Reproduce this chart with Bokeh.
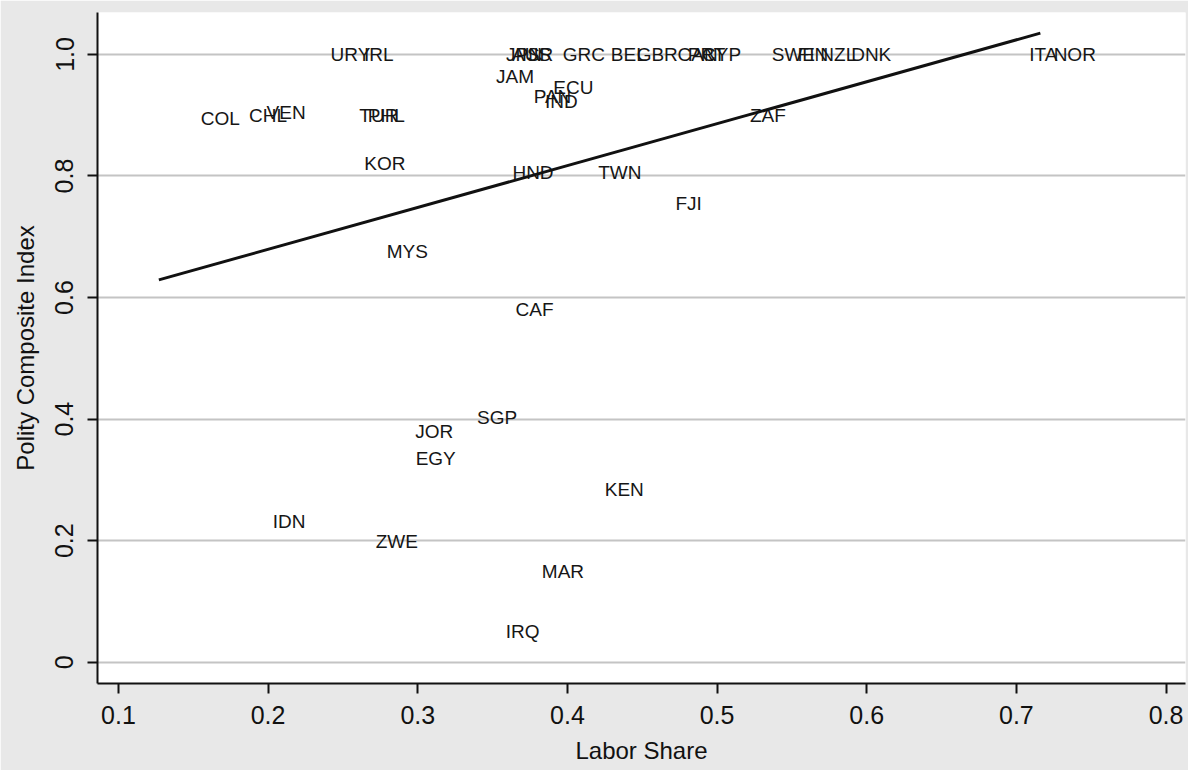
from bokeh.plotting import figure
from bokeh.models import ColumnDataSource, FixedTicker, Range1d
from bokeh.core.properties import value
from bokeh.embed import file_html
from bokeh.resources import INLINE

FONT = "Liberation Sans"

countries = ["URY", "IRL", "JPN", "AUS", "ISR", "GRC", "BEL", "GBR", "CAN", "PRT", "CYP",
             "SWE", "FIN", "NZL", "DNK", "ITA", "NOR", "JAM", "ECU", "PAN", "IND",
             "COL", "CHL", "VEN", "TUR", "PHL", "ZAF", "KOR", "HND", "TWN", "FJI",
             "MYS", "CAF", "SGP", "JOR", "EGY", "KEN", "IDN", "ZWE", "MAR", "IRQ"]
labor_share = [0.255, 0.274, 0.371, 0.376, 0.380, 0.411, 0.441, 0.460, 0.487, 0.493, 0.503,
               0.551, 0.564, 0.581, 0.603, 0.718, 0.739, 0.365, 0.404, 0.390, 0.396,
               0.168, 0.200, 0.212, 0.274, 0.279, 0.534, 0.278, 0.377, 0.435, 0.481,
               0.293, 0.378, 0.353, 0.311, 0.312, 0.438, 0.214, 0.286, 0.397, 0.370]
polity = [1.0, 1.0, 1.0, 1.0, 1.0, 1.0, 1.0, 1.0, 1.0, 1.0, 1.0,
          1.0, 1.0, 1.0, 1.0, 1.0, 1.0, 0.963, 0.945, 0.930, 0.923,
          0.894, 0.900, 0.904, 0.900, 0.900, 0.900, 0.821, 0.805, 0.805, 0.754,
          0.675, 0.581, 0.402, 0.380, 0.336, 0.285, 0.232, 0.199, 0.150, 0.051]

fit_x = [0.127, 0.716]
fit_y = [0.629, 1.035]

x_ticks = [0.1, 0.2, 0.3, 0.4, 0.5, 0.6, 0.7, 0.8]
y_ticks = [0.0, 0.2, 0.4, 0.6, 0.8, 1.0]
y_tick_labels = {0.0: "0", 0.2: "0.2", 0.4: "0.4", 0.6: "0.6", 0.8: "0.8", 1.0: "1.0"}

p = figure(width=1188, height=770, output_backend="svg", toolbar_location=None,
           x_range=Range1d(0.086, 0.813), y_range=Range1d(-0.035, 1.069),
           min_border_left=97, min_border_right=3, min_border_top=12, min_border_bottom=87)

p.background_fill_color = "white"
p.border_fill_color = "#e8e8e8"
p.outline_line_color = None

p.xgrid.grid_line_color = None
p.ygrid.ticker = FixedTicker(ticks=y_ticks)
p.ygrid.grid_line_color = "#c4c4c4"
p.ygrid.grid_line_width = 2

p.xaxis.ticker = FixedTicker(ticks=x_ticks)
p.yaxis.ticker = FixedTicker(ticks=y_ticks)
p.yaxis.major_label_overrides = y_tick_labels
p.yaxis.major_label_orientation = "vertical"

for ax in (p.xaxis, p.yaxis):
    ax.axis_line_color = "#111111"
    ax.axis_line_width = 2
    ax.major_tick_line_color = "#111111"
    ax.major_tick_line_width = 2
    ax.major_tick_out = 10
    ax.major_tick_in = 0
    ax.minor_tick_line_color = None
    ax.major_label_text_font = FONT
    ax.major_label_text_font_size = "25px"
    ax.major_label_text_color = "#111111"
    ax.axis_label_text_font = FONT
    ax.axis_label_text_font_size = "24px"
    ax.axis_label_text_font_style = "normal"
    ax.axis_label_text_color = "#111111"

p.xaxis.axis_label = "Labor Share"
p.yaxis.axis_label = "Polity Composite Index"
p.xaxis.major_label_standoff = 12
p.yaxis.major_label_standoff = 14
p.xaxis.axis_label_standoff = 10
p.yaxis.axis_label_standoff = 14

src = ColumnDataSource(dict(x=labor_share, y=polity, name=countries))
p.text(x="x", y="y", text="name", source=src, text_align="center", text_baseline="middle",
       text_font=value(FONT), text_font_size="19px", text_color="#161616")

p.line(fit_x, fit_y, line_color="#111111", line_width=3)

open("out.html", "w").write(file_html(p, INLINE))
